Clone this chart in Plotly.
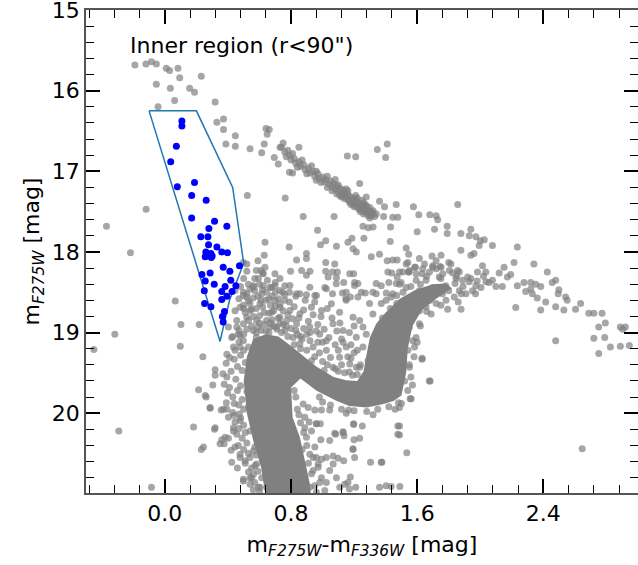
import plotly.graph_objects as go

# ---------------- data ----------------
# Stars selected in the blue-straggler region (blue dots)
BLUE_X = [0.108, 0.108, 0.073, 0.037, 0.188, 0.079, 0.170, 0.262, 0.170, 0.315,
          0.393, 0.279, 0.228, 0.273, 0.277, 0.330, 0.260, 0.292, 0.361, 0.397,
          0.256, 0.294, 0.473, 0.370, 0.412, 0.287, 0.235, 0.418, 0.256, 0.313,
          0.382, 0.450, 0.361, 0.250, 0.426, 0.393, 0.361, 0.252, 0.292, 0.378,
          0.365, 0.370, 0.270, 0.300]
BLUE_Y = [16.375, 16.437, 16.69, 16.88, 17.14, 17.19, 17.30, 17.36, 17.58, 17.62,
          17.68, 17.71, 17.81, 17.81, 17.91, 17.94, 18.00, 18.02, 18.00, 18.01,
          18.06, 18.07, 18.17, 18.19, 18.24, 18.26, 18.28, 18.35, 18.36, 18.40,
          18.43, 18.42, 18.49, 18.48, 18.49, 18.55, 18.59, 18.64, 18.68, 18.74,
          18.80, 18.87, 18.04, 18.05]

# Selection polygon
REGION_X = [-0.10, 0.20, 0.43, 0.50, 0.41, 0.35, -0.10]
REGION_Y = [16.25, 16.25, 17.20, 18.14, 18.60, 19.11, 16.25]

# Outline of the saturated (solid) part of MS + SGB + RGB
CORE_X = [0.62, 0.635, 0.61, 0.56, 0.52, 0.50, 0.52, 0.56, 0.64, 0.72, 0.79, 0.86, 0.96,
          1.07, 1.15, 1.22, 1.26, 1.28, 1.30, 1.34, 1.40, 1.49, 1.59, 1.70, 1.78, 1.82,
          1.72, 1.63, 1.57, 1.54, 1.53, 1.50, 1.45, 1.38, 1.28, 1.17, 1.09,
          0.96, 0.86, 0.80, 0.81, 0.856, 0.89, 0.92, 0.93, 0.62]
CORE_Y = [21.1, 20.98, 20.67, 20.34, 20.0, 19.6, 19.3, 19.08, 19.02, 19.05, 19.15, 19.26, 19.42,
          19.55, 19.59, 19.60, 19.48, 19.26, 19.06, 18.89, 18.75, 18.58, 18.47, 18.40, 18.39, 18.45,
          18.58, 18.72, 18.92, 19.20, 19.50, 19.78, 19.85, 19.89, 19.93, 19.91, 19.85,
          19.72, 19.57, 19.68, 20.05, 20.30, 20.59, 20.88, 21.1, 21.1]

# Bright sparse stars (upper left) and field stars
UPPER = [(-0.19, 15.68), (-0.12, 15.67), (-0.085, 15.64), (-0.054, 15.67), (0.009, 15.72),
         (0.03, 15.75), (0.083, 15.72), (0.094, 15.84), (-0.054, 15.92), (0.035, 15.97),
         (0.157, 15.97), (0.188, 16.02), (0.062, 16.12), (-0.043, 16.20), (0.231, 15.82),
         (0.319, 16.14), (0.33, 16.39), (0.372, 16.35), (0.372, 16.48), (0.387, 16.66),
         (0.447, 16.56), (0.447, 16.69), (0.54, 16.72), (0.614, 16.77), (0.63, 16.66),
         (0.641, 16.47), (0.662, 16.48), (0.649, 16.54), (0.694, 16.83), (0.719, 16.91),
         (0.73, 16.70), (0.523, 17.30), (0.74, 16.70), (0.75, 16.65), (0.85, 16.70),
         (0.79, 17.01), (0.81, 17.02), (0.763, 17.33), (0.877, 17.56), (1.073, 17.56),
         (1.157, 16.81), (1.21, 16.82), (1.347, 16.73), (1.41, 16.66), (1.40, 16.83),
         (1.235, 17.15), (-0.119, 17.47), (-0.37, 17.68), (-0.218, 18.01), (-0.317, 19.02),
         (-0.45, 19.21), (-0.292, 20.22), (-0.085, 20.92)]

# Horizontal-branch band
HB = [(0.76, 16.76), (0.77, 16.82), (0.79, 16.80), (0.80, 16.86), (0.82, 16.84), (0.83, 16.90),
      (0.85, 16.88), (0.86, 16.94), (0.88, 16.92), (0.89, 16.98), (0.91, 16.96), (0.92, 17.02),
      (0.94, 17.00), (0.95, 17.06), (0.97, 17.03), (0.98, 17.09), (1.00, 17.07), (1.01, 17.13),
      (1.02, 17.10), (1.04, 17.16), (1.05, 17.12), (1.06, 17.19), (1.07, 17.15), (1.08, 17.22),
      (1.09, 17.18), (1.10, 17.25), (1.11, 17.21), (1.12, 17.27), (1.13, 17.23), (1.13, 17.30),
      (1.14, 17.26), (1.15, 17.32), (1.16, 17.28), (1.16, 17.35), (1.17, 17.31), (1.18, 17.37),
      (1.19, 17.33), (1.19, 17.40), (1.20, 17.35), (1.21, 17.42), (1.22, 17.37), (1.22, 17.44),
      (1.23, 17.40), (1.24, 17.46), (1.25, 17.42), (1.25, 17.48), (1.26, 17.44), (1.27, 17.50),
      (1.28, 17.46), (1.28, 17.52), (1.29, 17.48), (1.30, 17.53), (1.31, 17.50), (1.31, 17.55),
      (1.32, 17.52), (1.30, 17.45), (1.27, 17.41), (1.33, 17.56), (1.24, 17.50), (1.18, 17.41),
      (1.12, 17.32), (1.03, 17.20), (0.96, 17.11), (0.78, 16.74), (0.81, 16.78), (0.84, 16.95),
      (0.87, 16.86), (0.90, 17.03), (0.93, 16.93), (0.96, 17.00), (0.99, 17.14), (1.03, 17.06),
      (1.06, 17.24), (1.09, 17.28), (1.11, 17.30), (1.14, 17.34), (1.17, 17.38), (1.20, 17.44),
      (1.23, 17.47), (1.26, 17.53), (1.29, 17.55), (1.32, 17.49), (1.28, 17.43), (1.22, 17.33),
      (1.16, 17.24), (1.10, 17.17), (1.08, 17.10), (1.15, 17.22), (1.26, 17.39), (1.30, 17.58),
      (1.34, 17.53), (1.25, 17.36), (1.21, 17.30)]

# Sparse stars between the HB and the SGB/RGB
MID = [(1.277, 17.32), (1.361, 17.37), (1.393, 17.44), (1.467, 17.41), (1.445, 17.57), (1.477, 17.57),
       (1.387, 17.56), (1.431, 17.69), (1.576, 17.44), (1.61, 17.54), (1.68, 17.54), (1.72, 17.55),
       (1.73, 17.60), (1.60, 17.75), (1.71, 17.72), (1.79, 17.68), (1.79, 17.77), (1.256, 17.68),
       (1.29, 17.70), (1.32, 17.69), (0.968, 17.73), (1.262, 17.83), (1.186, 17.83), (1.161, 17.88),
       (1.088, 17.93), (1.02, 17.86), (0.987, 17.91), (0.635, 17.88), (0.788, 17.94), (0.63, 18.04),
       (0.898, 18.02), (0.898, 18.08), (0.835, 18.10), (1.193, 17.96), (1.214, 18.00), (1.309, 18.06),
       (1.361, 18.03), (1.429, 17.87), (1.53, 17.95), (1.546, 18.03), (1.41, 18.11), (1.445, 18.10),
       (1.473, 18.10), (1.54, 18.13), (1.694, 18.05), (1.751, 18.04), (1.745, 18.18), (1.698, 18.19),
       (0.52, 18.15), (0.52, 18.24), (0.59, 18.11), (0.58, 18.23), (0.61, 18.23), (0.624, 18.27),
       (0.698, 18.27), (0.73, 18.33), (0.797, 18.24), (0.867, 18.23), (0.898, 18.29), (0.92, 18.24),
       (1.02, 18.13), (1.077, 18.15), (1.02, 18.24), (1.063, 18.25), (1.094, 18.25), (1.035, 18.31),
       (1.088, 18.32), (1.172, 18.27), (1.197, 18.27), (1.134, 18.38), (1.203, 18.38), (1.224, 18.39),
       (1.246, 18.50), (1.271, 18.51), (1.319, 18.50), (1.34, 18.39), (1.372, 18.42), (1.414, 18.25),
       (1.439, 18.26), (1.473, 18.31), (1.488, 18.25), (1.546, 18.25), (1.589, 18.19), (1.631, 18.27),
       (1.42, 18.38), (1.467, 18.39), (1.498, 18.38), (1.404, 18.51), (1.435, 18.56), (1.47, 18.54),
       (0.835, 18.52), (0.898, 18.53), (0.951, 18.54), (1.014, 18.44), (1.063, 18.52), (1.126, 18.51),
       (1.147, 18.58), (1.176, 18.56), (0.498, 18.50), (0.561, 18.42), (0.624, 18.42), (0.646, 18.50),
       (0.698, 18.42), (0.747, 18.50), (0.761, 18.42)]

# Upper RGB / AGB stars
AGB = [(1.857, 17.41), (1.877, 17.77), (1.94, 17.72), (1.93, 17.80), (1.972, 17.81), (2.00, 17.86),
       (2.025, 17.85), (1.993, 17.92), (2.077, 17.92), (2.235, 17.94), (1.877, 17.98), (1.94, 18.04),
       (1.96, 18.02), (1.80, 18.13), (1.814, 18.15), (1.856, 18.23), (1.867, 18.25), (2.014, 18.17),
       (1.982, 18.25), (2.035, 18.25), (2.151, 18.19), (2.12, 18.26), (2.077, 18.35), (2.056, 18.38),
       (2.099, 18.43), (2.14, 18.43), (2.172, 18.31), (2.193, 18.28), (2.214, 18.13), (2.235, 18.42),
       (2.277, 18.38), (2.32, 18.38), (2.351, 18.40), (2.383, 18.43), (2.32, 18.46), (2.288, 18.49),
       (2.33, 18.52), (2.361, 18.57), (2.34, 18.15), (2.425, 18.25), (2.456, 18.38), (2.478, 18.35),
       (2.498, 18.47), (2.494, 18.52), (2.541, 18.56), (2.551, 18.60), (2.53, 18.72), (2.478, 18.68),
       (2.415, 18.62), (2.383, 18.72), (2.225, 18.69), (2.604, 18.71), (2.636, 18.64), (2.688, 18.76),
       (2.72, 18.76), (2.772, 18.76), (2.751, 18.93), (2.793, 18.88), (2.72, 19.07), (2.789, 19.06),
       (2.478, 19.10), (2.751, 19.26), (2.825, 19.18), (2.888, 19.17), (2.945, 19.16), (2.888, 18.93),
       (2.92, 18.93), (2.903, 18.96), (1.631, 19.32), (1.682, 19.60), (1.562, 19.82), (2.646, 20.44)]

# Stars on the edges of the RGB
RGB_EDGE = [(1.509, 18.25), (1.551, 18.23), (1.593, 18.27), (1.635, 18.21), (1.678, 18.25), (1.72, 18.21),
            (1.762, 18.27), (1.804, 18.23), (1.846, 18.33), (1.888, 18.35), (1.93, 18.37), (1.972, 18.42),
            (2.004, 18.44), (2.036, 18.37), (1.92, 18.31), (1.867, 18.48), (1.909, 18.52), (1.951, 18.48),
            (1.835, 18.56), (1.783, 18.60), (1.72, 18.64), (1.656, 18.68), (1.614, 18.73), (1.572, 18.77),
            (1.53, 18.85), (1.551, 18.93), (1.52, 19.02), (1.572, 19.10), (1.541, 19.22), (1.509, 19.35),
            (1.551, 19.43), (1.499, 19.51), (1.52, 19.60), (1.878, 18.71), (1.793, 18.71), (1.688, 18.77),
            (1.614, 18.89), (1.593, 19.06), (1.583, 19.18), (1.53, 18.15), (1.583, 18.19), (1.646, 18.15),
            (1.699, 18.17), (1.751, 18.19), (1.825, 18.26), (1.72, 18.11), (1.614, 18.08), (1.547, 18.25),
            (1.235, 18.85), (1.277, 19.02), (1.256, 19.18), (1.288, 19.35), (1.235, 19.43), (1.319, 18.77),
            (1.372, 18.64), (1.445, 18.52), (1.53, 18.44), (1.403, 18.60), (1.298, 18.64), (1.34, 18.52),
            (1.488, 18.40), (1.593, 18.35), (1.656, 18.35), (1.698, 18.44), (1.74, 18.31), (1.782, 18.42),
            (1.614, 18.48), (1.677, 18.56), (1.33, 19.70), (1.31, 19.55), (1.55, 19.40), (1.57, 19.65),
            (1.54, 19.72), (1.50, 19.88), (1.46, 19.95), (1.35, 18.98), (1.32, 19.15), (1.38, 18.82),
            (1.43, 18.70), (1.47, 18.64), (1.51, 18.50), (1.56, 18.43), (1.62, 18.40), (1.66, 18.30),
            (1.75, 18.33), (1.85, 18.30), (1.89, 18.43), (1.94, 18.33), (1.98, 18.36), (2.02, 18.30),
            (1.97, 18.52), (1.86, 18.62), (1.75, 18.66), (1.66, 18.74), (1.62, 18.92), (1.58, 19.30),
            (1.56, 19.55), (1.60, 19.12), (1.59, 18.62), (1.80, 18.48), (1.84, 18.39), (1.76, 18.52),
            (1.68, 18.60), (1.64, 18.55), (1.88, 18.52)]

# Stars around the turnoff and the main-sequence edges
MS_EDGE = [(0.066, 18.61), (0.102, 18.90), (0.218, 18.90), (0.098, 19.17), (0.241, 19.30), (0.182, 20.17),
           (0.231, 20.45), (0.315, 20.20), (0.214, 19.71), (0.262, 19.80), (0.287, 19.94), (0.304, 19.65),
           (0.319, 19.46), (0.319, 19.53), (0.368, 19.51), (0.393, 19.55), (0.376, 19.64), (0.397, 19.75),
           (0.431, 19.80), (0.41, 19.31), (0.389, 19.38), (0.357, 19.96), (0.393, 19.95), (0.439, 20.03),
           (0.445, 20.11), (0.435, 20.22), (0.403, 20.31), (0.361, 20.33), (0.376, 20.38), (0.466, 20.40),
           (0.456, 20.26), (0.477, 20.09), (0.472, 20.01), (0.456, 18.93), (0.403, 18.93), (0.466, 19.02),
           (0.498, 19.10), (0.477, 19.18), (0.424, 19.06), (0.445, 19.22), (0.393, 19.27), (0.445, 18.73),
           (0.498, 18.66), (0.519, 18.56), (0.54, 18.46), (0.593, 18.33), (0.62, 18.26), (0.498, 18.13),
           (0.635, 18.19), (0.677, 18.44), (0.698, 18.60), (0.73, 18.69), (0.477, 20.51), (0.509, 20.59),
           (0.54, 20.55), (0.572, 20.65), (0.561, 20.76), (0.498, 20.82), (0.54, 20.88), (0.614, 20.80),
           (0.593, 20.92), (0.646, 20.92), (0.445, 18.478), (0.498, 18.54), (0.561, 18.437), (0.614, 18.52),
           (0.666, 18.437), (0.729, 18.478), (0.793, 18.416), (0.856, 18.52), (0.919, 18.437), (0.961, 18.54),
           (1.024, 18.458), (1.087, 18.395), (1.15, 18.50), (1.203, 18.416), (1.224, 18.56), (0.477, 18.685),
           (0.54, 18.727), (0.603, 18.644), (0.677, 18.747), (0.729, 18.81), (0.793, 18.727), (0.856, 18.768),
           (0.929, 18.685), (0.993, 18.727), (1.056, 18.644), (1.108, 18.747), (1.15, 18.60), (1.193, 18.81),
           (1.256, 18.93), (0.498, 18.89), (0.582, 18.85), (0.666, 18.93), (0.761, 18.975), (0.835, 18.89),
           (0.919, 18.93), (0.982, 19.02), (1.066, 18.89), (1.13, 18.975), (1.214, 19.058), (0.856, 19.14),
           (0.94, 19.18), (1.024, 19.22), (1.108, 19.306), (1.172, 19.39), (1.024, 19.10), (1.15, 19.18),
           (1.066, 19.43), (1.214, 19.43), (0.456, 18.85), (0.519, 18.81), (0.561, 18.975), (0.645, 18.85),
           (0.708, 18.93), (0.772, 18.85), (0.814, 19.06), (0.477, 19.04), (0.435, 19.18), (0.256, 19.78),
           (0.287, 19.93), (0.319, 20.18), (0.371, 19.95), (0.403, 20.05), (0.435, 20.18), (0.382, 20.30),
           (0.445, 20.42), (0.424, 20.61), (0.477, 20.55), (0.498, 20.84), (0.54, 20.80), (0.245, 20.42),
           (0.35, 20.38), (0.561, 20.47), (0.582, 20.63), (0.55, 20.80), (0.603, 20.92)]

# Extra stars crowding the turnoff, the MS flanks and the SGB
CROWD = [(0.43, 19.05), (0.47, 19.12), (0.44, 19.33), (0.48, 19.28), (0.46, 19.42), (0.49, 19.47),
         (0.45, 19.58), (0.48, 19.66), (0.46, 19.72), (0.49, 19.83), (0.47, 19.90), (0.44, 19.88),
         (0.50, 19.95), (0.48, 20.06), (0.50, 20.15), (0.47, 20.19), (0.51, 20.24), (0.49, 20.31),
         (0.52, 20.37), (0.50, 20.45), (0.53, 20.50), (0.51, 20.62), (0.55, 20.68), (0.53, 20.73),
         (0.57, 20.86), (0.56, 20.95), (0.60, 20.97), (0.42, 19.48), (0.41, 19.68), (0.43, 19.99),
         (0.42, 20.46), (0.46, 20.68), (0.39, 19.87), (0.51, 19.37), (0.50, 19.22), (0.53, 19.18),
         (0.52, 19.73), (0.53, 19.92), (0.54, 20.22), (0.58, 20.52), (0.59, 20.72), (0.57, 20.42),
         (0.50, 18.33), (0.53, 18.61), (0.56, 18.57), (0.58, 18.70), (0.60, 18.79), (0.62, 18.68),
         (0.64, 18.60), (0.66, 18.76), (0.68, 18.84), (0.70, 18.67), (0.71, 18.96), (0.73, 18.88),
         (0.75, 18.73), (0.77, 18.92), (0.79, 18.62), (0.81, 18.83), (0.83, 18.97), (0.52, 18.96),
         (0.55, 18.92), (0.58, 19.00), (0.61, 18.97), (0.63, 18.90), (0.66, 19.00), (0.69, 18.92),
         (0.74, 19.00), (0.78, 19.05), (0.55, 18.71), (0.59, 18.55), (0.65, 18.35), (0.68, 18.55),
         (0.72, 18.58), (0.76, 18.60), (0.62, 18.47), (0.57, 18.33), (0.48, 18.43), (0.51, 18.75),
         (0.47, 18.97), (0.53, 18.85), (0.60, 18.88), (0.67, 18.66), (0.84, 19.02), (0.87, 19.08),
         (0.90, 19.22), (0.92, 19.10), (0.95, 19.30), (0.98, 19.25), (1.00, 19.36), (1.03, 19.40),
         (1.05, 19.31), (1.08, 19.45), (1.10, 19.48), (1.12, 19.40), (1.14, 19.50), (1.17, 19.49),
         (1.19, 19.53), (1.22, 19.52), (1.24, 19.40), (1.20, 19.25), (1.16, 19.30), (0.88, 18.95),
         (0.96, 18.98), (1.00, 19.12), (1.08, 19.15), (1.12, 19.08), (1.18, 19.15), (0.93, 19.35),
         (1.01, 19.47), (0.86, 19.20), (0.82, 19.15), (0.98, 19.80), (1.05, 19.90), (1.12, 19.95),
         (1.20, 19.97), (1.28, 19.98), (1.35, 19.95), (1.42, 19.92), (1.00, 19.86), (1.15, 20.00),
         (1.32, 20.02), (0.83, 19.80), (0.84, 19.95), (0.86, 20.12), (0.88, 20.24), (0.90, 20.40),
         (0.91, 20.62), (0.93, 20.75), (0.95, 20.90), (0.85, 20.02), (0.87, 20.45), (0.94, 20.55),
         (0.82, 19.72)]

# More stars in the crowded zone above and right of the turnoff
TURNOFF = [(0.47, 18.58), (0.50, 18.70), (0.52, 18.52), (0.54, 18.64), (0.56, 18.80), (0.57, 18.48),
           (0.59, 18.93), (0.61, 18.60), (0.63, 18.75), (0.64, 18.98), (0.66, 18.58), (0.67, 18.88),
           (0.69, 18.73), (0.70, 18.50), (0.72, 18.82), (0.73, 18.65), (0.75, 18.90), (0.76, 18.53),
           (0.78, 18.78), (0.80, 18.95), (0.82, 18.68), (0.83, 18.55), (0.85, 18.82), (0.86, 19.05),
           (0.88, 18.72), (0.89, 18.60), (0.91, 18.86), (0.92, 19.00), (0.94, 18.78), (0.95, 18.62),
           (0.97, 18.90), (0.99, 18.80), (1.01, 18.96), (1.03, 18.70), (1.04, 19.06), (1.06, 18.82),
           (1.09, 18.98), (1.11, 18.88), (1.13, 19.12), (1.17, 19.00), (1.20, 18.92), (1.22, 19.22),
           (1.18, 19.32), (1.10, 19.22), (0.97, 19.12), (0.90, 19.02), (0.79, 18.50), (0.70, 18.38),
           (0.60, 18.40), (0.53, 18.40), (0.58, 19.06), (0.50, 19.02)]

# Sparse stars below the SGB, between the MS and the RGB
LOW = [(0.951, 19.96), (0.993, 19.96), (1.045, 19.96), (0.961, 20.13), (0.986, 20.13), (1.045, 20.34),
       (0.989, 20.33), (1.077, 20.25), (1.13, 20.23), (1.136, 20.28), (1.197, 20.13), (1.252, 20.16),
       (1.199, 20.33), (1.235, 20.31), (1.193, 20.45), (1.203, 20.55), (1.304, 20.61), (1.376, 20.61),
       (1.477, 20.16), (1.477, 20.26), (1.481, 19.87), (1.165, 19.96), (1.134, 20.59), (1.176, 20.79),
       (1.067, 20.63), (1.098, 20.56), (1.067, 20.53), (1.024, 20.55), (0.993, 20.57), (0.972, 20.63),
       (0.961, 20.55), (1.045, 20.71), (1.088, 20.80), (1.161, 20.86), (0.993, 20.80), (1.024, 20.86),
       (1.109, 20.92), (1.14, 20.88), (1.361, 20.92), (1.403, 20.90), (1.435, 20.91), (0.877, 19.886),
       (0.909, 19.93), (0.887, 20.05), (0.915, 20.11), (0.93, 20.22), (0.898, 20.30), (0.951, 20.42),
       (0.919, 20.51), (0.972, 20.67), (0.94, 20.71), (0.982, 20.86), (1.014, 20.96), (0.961, 20.98),
       (0.919, 20.92), (1.488, 19.93), (1.488, 20.16), (1.488, 20.27), (1.534, 20.49), (1.677, 19.60),
       (1.631, 19.33), (1.555, 19.82), (1.372, 20.61), (1.193, 20.44), (1.13, 20.24), (1.197, 20.14),
       (1.083, 20.26), (0.961, 20.13), (0.887, 20.18), (1.17, 20.94), (1.21, 20.92), (1.49, 20.91)]

X_TICKS = [0.0, 0.8, 1.6, 2.4]
Y_TICKS = [15, 16, 17, 18, 19, 20]
LABEL = 'Inner region (r&lt;90")'

# ---------------- figure ----------------
gray_pts = UPPER + HB + MID + AGB + RGB_EDGE + MS_EDGE + CROWD + TURNOFF + LOW
gx = [p[0] for p in gray_pts]
gy = [p[1] for p in gray_pts]

fig = go.Figure()
fig.add_trace(go.Scatter(x=CORE_X, y=CORE_Y, mode='lines', fill='toself',
                         fillcolor='#808080', line=dict(width=0, color='#808080'),
                         hoverinfo='skip'))
fig.add_trace(go.Scatter(x=gx, y=gy, mode='markers',
                         marker=dict(size=7, color='rgba(128,128,128,0.7)', line=dict(width=0))))
fig.add_trace(go.Scatter(x=REGION_X, y=REGION_Y, mode='lines',
                         line=dict(color='#1f77b4', width=1.5)))
fig.add_trace(go.Scatter(x=BLUE_X, y=BLUE_Y, mode='markers',
                         marker=dict(size=7, color='#0000ff', line=dict(width=0))))

fig.add_annotation(x=-0.235, y=15.435, xref='x', yref='y', text=LABEL, showarrow=False,
                   xanchor='left', yanchor='middle', font=dict(size=22, color='black'))

axis_common = dict(ticks='inside', ticklen=14, tickwidth=1.6, tickcolor='black',
                   showline=True, linecolor='#555555', linewidth=1.5, mirror='allticks',
                   showgrid=False, zeroline=False, automargin=False, ticklabeloverflow='allow',
                   tickfont=dict(size=22, color='black'))

fig.update_xaxes(range=[-0.5, 3.0], tickmode='array', tickvals=X_TICKS,
                 ticktext=[f'{v:.1f}' for v in X_TICKS],
                 minor=dict(tickmode='linear', tick0=0, dtick=0.16, ticks='inside', ticklen=8,
                            tickwidth=1.4, tickcolor='black', showgrid=False),
                 title=dict(text='m<sub><i>F275W</i></sub>-m<sub><i>F336W</i></sub> [mag]',
                            font=dict(size=22, color='black'), standoff=11),
                 **axis_common)
fig.update_yaxes(range=[20.99, 14.999], tickmode='array', tickvals=Y_TICKS,
                 ticktext=[str(v) for v in Y_TICKS],
                 minor=dict(tickmode='linear', tick0=15, dtick=0.2, ticks='inside', ticklen=8,
                            tickwidth=1.4, tickcolor='black', showgrid=False),
                 title=dict(text='m<sub><i>F275W</i></sub> [mag]',
                            font=dict(size=22, color='black'), standoff=6),
                 **axis_common)

fig.update_layout(width=638, height=565, margin=dict(l=86, r=0, t=10, b=72),
                  plot_bgcolor='white', paper_bgcolor='white', showlegend=False,
                  font=dict(family='DejaVu Sans', color='black', size=22))

# remove the browser's default 8px page margin so the figure sits at the window origin
fig.write_html('out.html', config={'displayModeBar': False},
               post_script="document.body.style.margin='0';")
